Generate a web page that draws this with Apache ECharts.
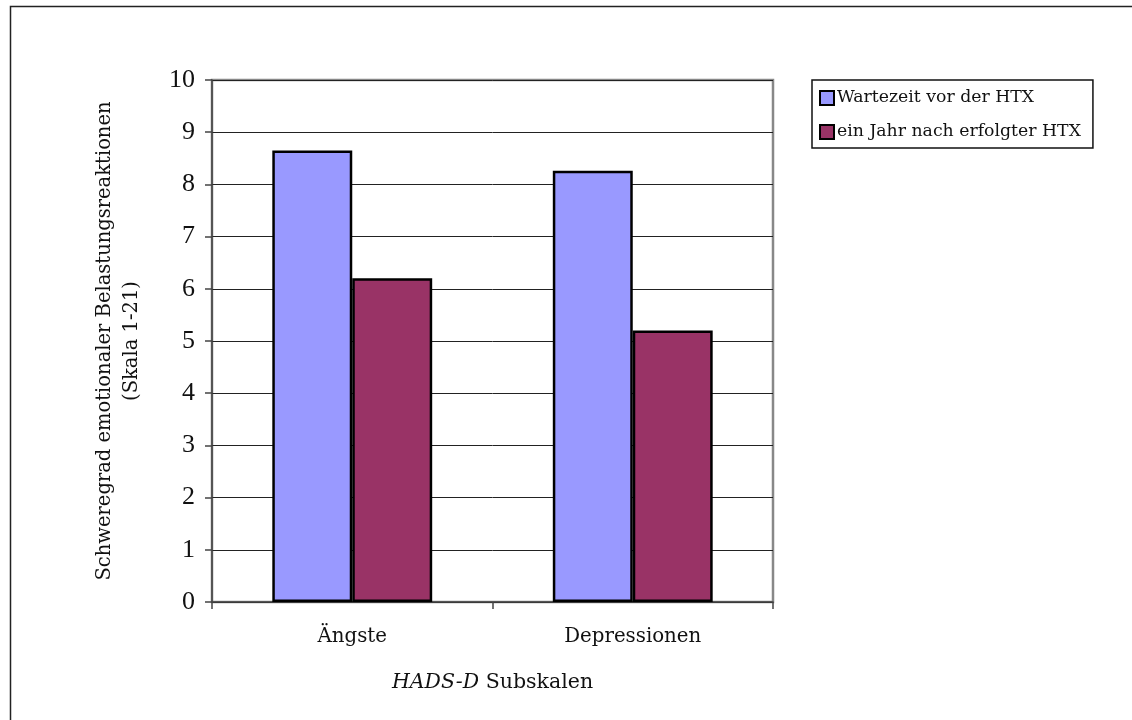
<!DOCTYPE html>
<html>
<head>
<meta charset="utf-8">
<script src="https://cdn.jsdelivr.net/npm/echarts@6/dist/echarts.min.js"></script>
<style>
html,body{margin:0;padding:0;background:#fff;}
#c{width:1132px;height:720px;}
</style>
</head>
<body>
<div id="c"></div>
<script>
const categories = ['Ängste', 'Depressionen'];
const seriesNames = ['Wartezeit vor der HTX', 'ein Jahr nach erfolgter HTX'];
const vorHTX = [8.65, 8.26];
const nachHTX = [6.2, 5.2];
const yTicks = [0, 10, 1];

const FONT = '"DejaVu Serif", "Liberation Serif", serif';
const NUMFONT = '"Liberation Serif", "DejaVu Serif", serif';
const chart = echarts.init(document.getElementById('c'));
chart.setOption({
  animation: false,
  backgroundColor: '#fff',
  graphic: [{
    type: 'rect', shape: {x: 10.5, y: 6.5, width: 1200, height: 800},
    style: {fill: 'none', stroke: '#222', lineWidth: 1.5}, silent: true
  }],
  grid: {left: 212, top: 80, width: 561, height: 522, show: true, borderColor: '#888', borderWidth: 2.5, containLabel: false},
  legend: {
    orient: 'vertical', left: 812, top: 80,
    padding: [8, 12, 6, 7], itemGap: 14,
    borderColor: '#111', borderWidth: 1.5, backgroundColor: '#fff',
    itemWidth: 14, itemHeight: 14, icon: 'rect',
    textStyle: {fontFamily: FONT, fontSize: 17.3, lineHeight: 20, color: '#111', padding: [0, 0, 0, -2]},
    data: seriesNames
  },
  xAxis: {
    type: 'category', data: categories,
    axisLine: {lineStyle: {color: '#444', width: 1.5}},
    axisTick: {show: true, length: 7, lineStyle: {color: '#444', width: 1.5}},
    axisLabel: {fontFamily: FONT, fontSize: 19.8, color: '#111', margin: 25},
    name: '{i|HADS-D} Subskalen', nameLocation: 'middle', nameGap: 70,
    nameTextStyle: {fontFamily: FONT, fontSize: 20.5, color: '#111',
      rich: {i: {fontFamily: FONT, fontSize: 20.5, fontStyle: 'italic', color: '#111'}}}
  },
  yAxis: {
    type: 'value', min: yTicks[0], max: yTicks[1], interval: yTicks[2],
    axisLine: {show: true, lineStyle: {color: '#444', width: 1.5}},
    axisTick: {show: true, length: 7, lineStyle: {color: '#444', width: 1.5}},
    axisLabel: {fontFamily: NUMFONT, fontSize: 26, color: '#111', margin: 17},
    splitLine: {show: true, lineStyle: {color: '#222', width: 1}},
    name: 'Schweregrad emotionaler Belastungsreaktionen\n(Skala 1-21)',
    nameLocation: 'middle', nameGap: 67, nameRotate: 90,
    nameTextStyle: {fontFamily: FONT, fontSize: 19.5, color: '#111', lineHeight: 27}
  },
  series: [
    {name: seriesNames[0], type: 'bar', data: vorHTX, barGap: '0%', barCategoryGap: '43%',
     itemStyle: {color: '#9999ff', borderColor: '#000', borderWidth: 2.5}},
    {name: seriesNames[1], type: 'bar', data: nachHTX, barGap: '0%', barCategoryGap: '43%',
     itemStyle: {color: '#993366', borderColor: '#000', borderWidth: 2.5}}
  ]
});
</script>
</body>
</html>
